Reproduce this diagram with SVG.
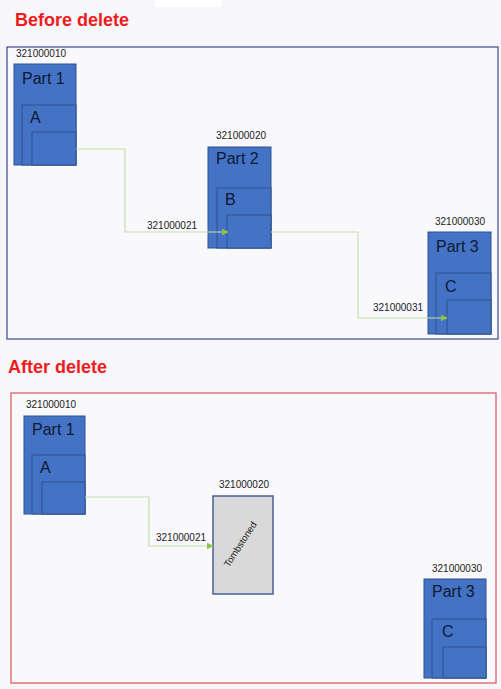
<svg xmlns="http://www.w3.org/2000/svg" width="501" height="689" viewBox="0 0 501 689">
<defs>
<style>
.title{font-family:"Liberation Sans",Arial,sans-serif;font-weight:bold;font-size:18px;fill:#ee1c1c}
.id{font-family:"Liberation Sans",Arial,sans-serif;font-size:10px;fill:#222}
.part{fill:#4472c4;stroke:#2f528f;stroke-width:1}
.pl{font-family:"Liberation Sans",Arial,sans-serif;font-size:16px;fill:#0d1a33}
.conn{fill:none;stroke:#c6e0a8;stroke-width:1.2}
.tomb{fill:#d9d9d9;stroke:#4a5f9a;stroke-width:1.5}
</style>
<marker id="arr" viewBox="0 0 10 10" refX="9" refY="5" markerWidth="7" markerHeight="7" orient="auto" markerUnits="userSpaceOnUse">
<path d="M0,0 L10,5 L0,10 z" fill="#8cc63f"/>
</marker>
</defs>
<rect width="501" height="689" fill="#f7f6fb"/>
<rect x="155" y="0" width="67" height="7" fill="#ffffff"/>

<text class="title" x="15" y="26">Before delete</text>
<rect x="7" y="47" width="491" height="292" fill="#f9f8fc" stroke="#3b4a8c" stroke-width="1.2"/>

<text class="title" x="8" y="373">After delete</text>
<rect x="11" y="393" width="485" height="290" fill="#f9f8fc" stroke="#d9545a" stroke-width="1.2"/>

<g id="before-part1">
<text class="id" x="16" y="57">321000010</text>
<rect class="part" x="14" y="64" width="62" height="101"/>
<rect class="part" x="22" y="105" width="54" height="60"/>
<rect class="part" x="32" y="132" width="44" height="33"/>
<text class="pl" x="22" y="84">Part 1</text>
<text class="pl" x="30" y="123">A</text>
</g>

<g id="before-part2">
<text class="id" x="216" y="139">321000020</text>
<rect class="part" x="208" y="147" width="63" height="101"/>
<rect class="part" x="217" y="188" width="54" height="60"/>
<rect class="part" x="227" y="215" width="44" height="33"/>
<text class="pl" x="216" y="164">Part 2</text>
<text class="pl" x="225" y="205">B</text>
</g>

<g id="before-part3">
<text class="id" x="435" y="225">321000030</text>
<rect class="part" x="428" y="232" width="63" height="102"/>
<rect class="part" x="436" y="273" width="55" height="61"/>
<rect class="part" x="447" y="300" width="44" height="34"/>
<text class="pl" x="436" y="252">Part 3</text>
<text class="pl" x="445" y="292">C</text>
</g>

<g id="after-part1">
<text class="id" x="26" y="408">321000010</text>
<rect class="part" x="24" y="416" width="61" height="98"/>
<rect class="part" x="32" y="455" width="53" height="59"/>
<rect class="part" x="42" y="482" width="43" height="32"/>
<text class="pl" x="32" y="435">Part 1</text>
<text class="pl" x="40" y="473">A</text>
</g>

<g id="after-part2">
<text class="id" x="219" y="488">321000020</text>
<rect class="tomb" x="213" y="496" width="60" height="98"/>
<text font-family="'Liberation Sans',Arial,sans-serif" font-size="9.5" fill="#222" text-anchor="middle" transform="translate(243,546) rotate(-57)">Tombstoned</text>
</g>

<g id="after-part3">
<text class="id" x="432" y="572">321000030</text>
<rect class="part" x="424" y="579" width="62" height="99"/>
<rect class="part" x="432" y="619" width="54" height="59"/>
<rect class="part" x="443" y="647" width="43" height="31"/>
<text class="pl" x="432" y="597">Part 3</text>
<text class="pl" x="442" y="637">C</text>
</g>

<g id="connectors">
<path class="conn" d="M76,149 H125 V232 H228" marker-end="url(#arr)"/>
<text class="id" x="147" y="229">321000021</text>
<path class="conn" d="M271,232 H358 V318 H447" marker-end="url(#arr)"/>
<text class="id" x="373" y="311">321000031</text>
<path class="conn" d="M85,497 H149 V546 H213" marker-end="url(#arr)"/>
<text class="id" x="156" y="541">321000021</text>
</g>
</svg>
